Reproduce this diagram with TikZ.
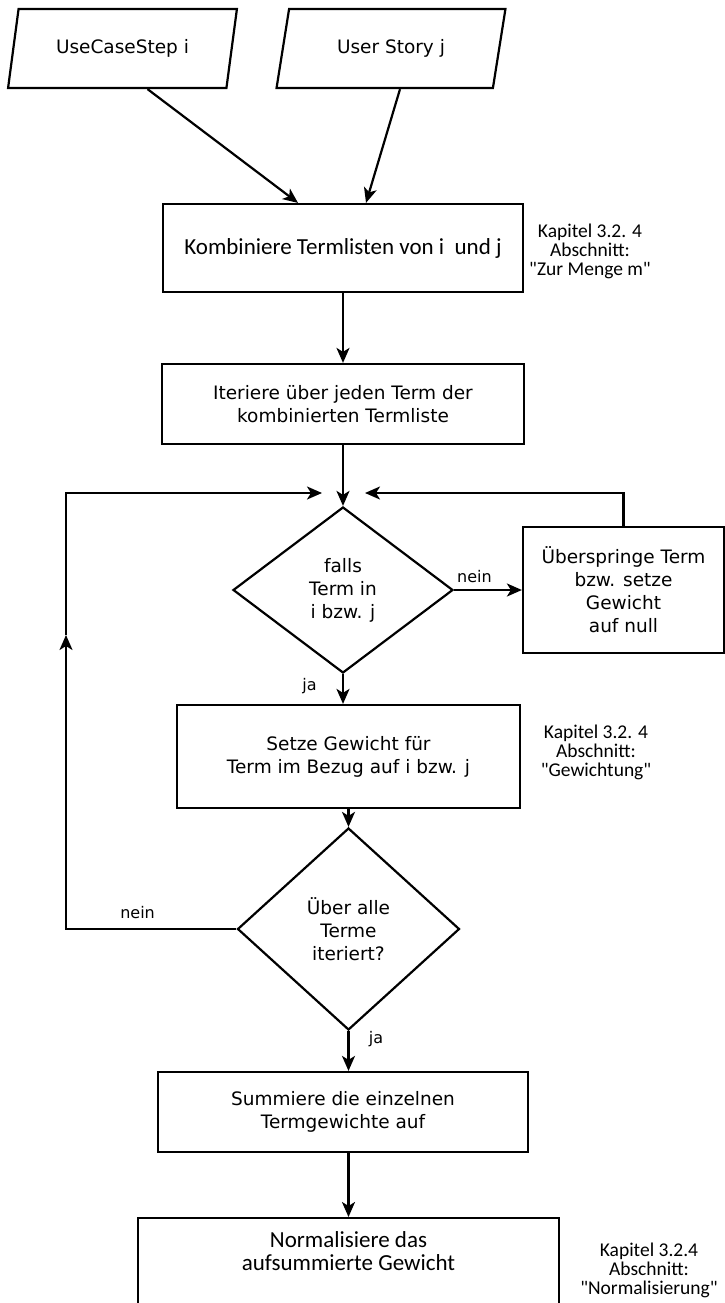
\documentclass[tikz,border=0pt]{standalone}
\usepackage{fontspec}
\setmainfont{DejaVu Sans}
\newfontfamily\calibri{Carlito}
\usetikzlibrary{arrows.meta,shapes.geometric}

\begin{document}
\begin{tikzpicture}[x=1pt,y=-1pt,->,>={Stealth[length=15pt,width=13pt,inset=4pt]},
                    line width=2.2pt]

  \tikzstyle{every node}=[font=\fontsize{18.5}{23}\selectfont]
  \tikzstyle{io}=[draw, trapezium, trapezium left angle=74, trapezium right angle=106,
                  trapezium stretches=true, minimum width=229pt, minimum height=79pt]
  \tikzstyle{process}=[draw, rectangle, align=center, inner sep=0pt]
  \tikzstyle{decision}=[draw, diamond, align=center, inner sep=0pt]
  \tikzstyle{note}=[align=center, font=\calibri\fontsize{19.5}{19}\selectfont]
  \tikzstyle{edgelabel}=[font=\fontsize{16}{19}\selectfont]

  \useasboundingbox (0,0) rectangle (725,1303);

  \node[io]
    (in1) at (122.5,48.5) {UseCaseStep i};
  \node[io]
    (in2) at (391,48.5) {User Story j};
  \node[process, minimum width=360pt, minimum height=88pt,
        font=\calibri\fontsize{23}{23}\selectfont]
    (comb) at (343,248) {Kombiniere Termlisten von i\ \ und j};
  \node[note]
    (note1) at (590,251) {Kapitel 3.2. 4\\Abschnitt:\\"Zur Menge m"};
  \node[process, minimum width=362pt, minimum height=80pt]
    (iter) at (343,404) {Iteriere über jeden Term der\\kombinierten Termliste};
  \node[decision, minimum width=220pt, minimum height=166pt]
    (d1) at (343,590) {falls\\Term in\\i bzw. j};
  \node[process, minimum width=201pt, minimum height=126pt]
    (skip) at (623.5,590) {Überspringe Term\\bzw. setze\\Gewicht\\auf null};
  \node[process, minimum width=343pt, minimum height=103pt]
    (setze) at (348.5,756.5) {Setze Gewicht für\\Term im Bezug auf i bzw. j};
  \node[note]
    (note2) at (596,752) {Kapitel 3.2. 4\\Abschnitt:\\"Gewichtung"};
  \node[decision, minimum width=222pt, minimum height=202pt]
    (d2) at (348.5,929) {Über alle\\Terme\\iteriert?};
  \node[process, minimum width=370pt, minimum height=80pt]
    (summ) at (343,1112) {Summiere die einzelnen\\Termgewichte auf};
  \node[process, minimum width=421pt, minimum height=120pt, anchor=north,
        label={[anchor=north, yshift=-10pt, align=center,
                font=\calibri\fontsize{23}{23}\selectfont]north:Normalisiere das\\aufsummierte Gewicht}]
    (norm) at (348.5,1217) {};
  \node[note]
    (note3) at (649,1270) {Kapitel 3.2.4\\Abschnitt:\\"Normalisierung"};

  % loop junctions
  \coordinate (joinL) at (322,493);
  \coordinate (joinR) at (365,493);
  \coordinate (cornerL) at (66,929);
  \coordinate (upL) at (66,635);

  \draw ([xshift=25pt]in1.south) -- ([xshift=-45pt]comb.north);
  \draw ([xshift=9pt]in2.south) -- ([xshift=23pt]comb.north);

  \path (comb)  edge (iter)
        (iter)  edge (d1)
        (d1)    edge node[edgelabel, above=3pt, pos=0.3] {nein} (skip)
        (setze) edge (d2);

  \draw (d1.south) -- node[edgelabel, pos=0.4, left=22pt] {ja} (d1.south |- setze.north);
  \draw (skip.north) |- (joinR);
  \draw (d2.west) -- node[edgelabel, above=6pt, pos=0.58] {nein} (cornerL) -- (upL);
  \draw (upL) |- (joinL);
  \draw (d2.south) -- node[edgelabel, pos=0.2, right=16pt] {ja} (d2.south |- summ.north);
  \draw (summ.south -| norm.north) -- (norm.north);

\end{tikzpicture}
\end{document}
